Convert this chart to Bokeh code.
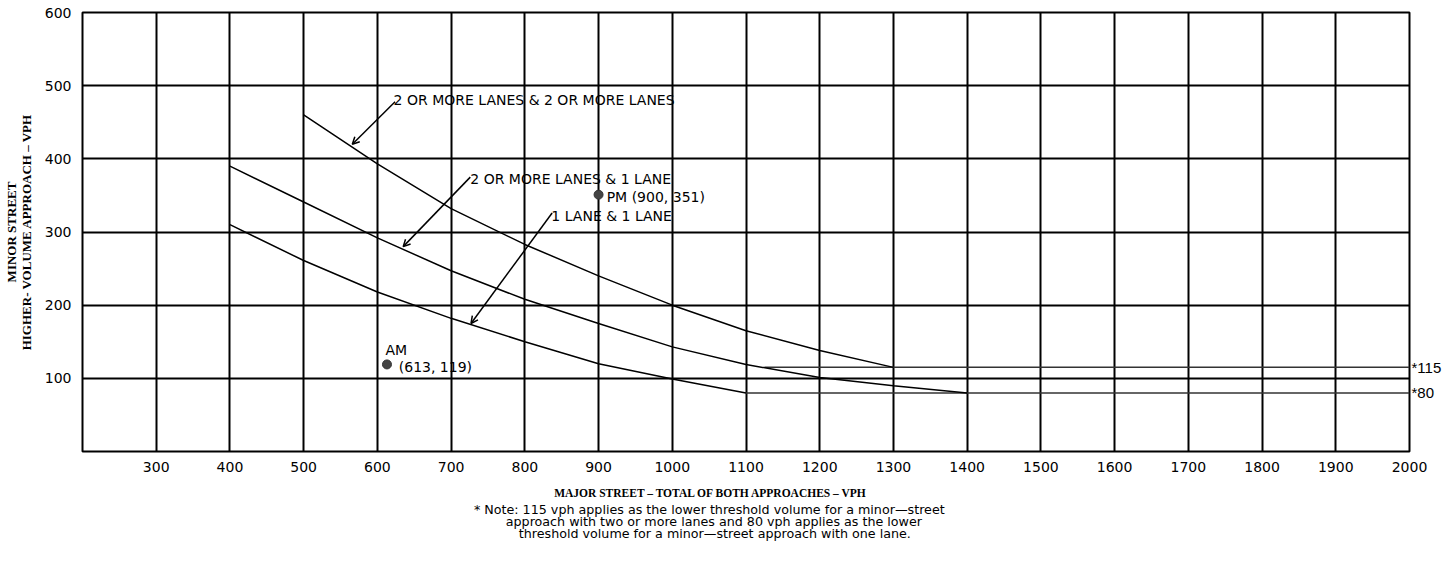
import math
from bokeh.plotting import figure
from bokeh.models import Range1d, FixedTicker, Label, Arrow, OpenHead, LinearAxis
from bokeh.layouts import column
from bokeh.core.properties import value
from bokeh.embed import file_html
from bokeh.resources import INLINE

# ---------------- data ----------------
x_ticks = [300, 400, 500, 600, 700, 800, 900, 1000, 1100, 1200, 1300, 1400,
           1500, 1600, 1700, 1800, 1900, 2000]
y_ticks = [100, 200, 300, 400, 500, 600]

# 2 or more lanes & 2 or more lanes
c22_x = [500, 600, 700, 800, 900, 1000, 1100, 1200, 1300]
c22_y = [460, 393, 332, 283, 240, 200, 165, 138, 115]
# 2 or more lanes & 1 lane
c21_x = [400, 500, 600, 700, 800, 900, 1000, 1100, 1200, 1300, 1400]
c21_y = [390, 341, 292, 247, 208, 175, 143, 119, 101, 90, 80]
# 1 lane & 1 lane
c11_x = [400, 500, 600, 700, 800, 900, 1000, 1100]
c11_y = [310, 261, 218, 182, 150, 120, 99, 80]

threshold_values = [115, 80]
threshold_start = [1125, 1100]
threshold_end = [2000, 2000]
threshold_labels = {115: "*115", 80: "*80"}

point_x = [613, 900]
point_y = [119, 351]

x_title = "MAJOR STREET – TOTAL OF BOTH APPROACHES – VPH"
y_title_1 = "MINOR STREET"
y_title_2 = "HIGHER- VOLUME APPROACH – VPH"
note_lines = [
    "* Note: 115 vph applies as the lower threshold volume for a minor—street",
    "approach with two or more lanes and 80 vph applies as the lower",
    "threshold volume for a minor—street approach with one lane.",
]

# ---------------- main figure ----------------
p = figure(width=1446, height=480, output_backend="svg", toolbar_location=None,
           x_range=Range1d(200, 2000), y_range=Range1d(0, 600),
           min_border_left=82, min_border_right=37, min_border_top=12,
           min_border_bottom=29)
p.background_fill_color = "white"
p.border_fill_color = "white"
p.outline_line_color = "black"
p.outline_line_width = 2

for ax in (p.xaxis, p.yaxis):
    ax.axis_line_color = None
    ax.major_tick_line_color = None
    ax.minor_tick_line_color = None
    ax.major_tick_out = 0
    ax.minor_tick_out = 0
    ax.major_label_text_font = "DejaVu Sans"
    ax.major_label_text_font_size = "14px"
    ax.major_label_text_color = "black"
p.xaxis.major_label_standoff = 10
p.yaxis.major_label_standoff = 11
p.xaxis.ticker = FixedTicker(ticks=x_ticks)
p.yaxis.ticker = FixedTicker(ticks=y_ticks)
p.xgrid.ticker = FixedTicker(ticks=x_ticks)
p.ygrid.ticker = FixedTicker(ticks=y_ticks)
for g in (p.xgrid, p.ygrid):
    g.grid_line_color = "black"
    g.grid_line_width = 2

# y axis titles (two lines, as two axis labels)
p.yaxis.axis_label = y_title_2
p.yaxis.axis_label_standoff = 8
p.yaxis.axis_label_text_font = "Liberation Serif"
p.yaxis.axis_label_text_font_style = "bold"
p.yaxis.axis_label_text_font_size = "13px"
p.yaxis.axis_label_text_color = "black"

outer = LinearAxis(ticker=FixedTicker(ticks=[]), axis_label=y_title_1,
                   axis_line_color=None, major_tick_line_color=None,
                   minor_tick_line_color=None, major_tick_out=0, minor_tick_out=0,
                   major_label_standoff=0, axis_label_standoff=-3,
                   axis_label_text_font="Liberation Serif",
                   axis_label_text_font_style="bold",
                   axis_label_text_font_size="13px", axis_label_text_color="black")
p.add_layout(outer, "left")

# right axis with the threshold labels
right = LinearAxis(ticker=FixedTicker(ticks=threshold_values),
                   major_label_overrides=threshold_labels,
                   axis_line_color=None, major_tick_line_color=None,
                   minor_tick_line_color=None, major_tick_out=0, minor_tick_out=0,
                   major_label_standoff=2, major_label_text_font="Liberation Sans",
                   major_label_text_font_size="15px", major_label_text_color="black")
p.add_layout(right, "right")

# threshold lines
p.segment(x0=threshold_start, y0=threshold_values, x1=threshold_end,
          y1=threshold_values, line_color="#333333", line_width=1.5)

# curves
for cx, cy in ((c22_x, c22_y), (c21_x, c21_y), (c11_x, c11_y)):
    p.line(cx, cy, line_color="black", line_width=1.5)

# points
p.scatter(point_x, point_y, size=9, fill_color="#444444", line_color="#333333")

ann_font = "DejaVu Sans"
ann_size = "14px"

def lab(x, y, text):
    p.add_layout(Label(x=x, y=y, text=text, text_align="left",
                       text_baseline="middle", text_font=ann_font,
                       text_font_size=ann_size, text_color="black"))

def arrow(x0, y0, x1, y1):
    p.add_layout(Arrow(end=OpenHead(size=7, line_width=1.5, line_color="black"),
                       x_start=x0, y_start=y0, x_end=x1, y_end=y1,
                       line_width=1.5, line_color="black"))

lab(622, 480, "2 OR MORE LANES & 2 OR MORE LANES")
arrow(624, 478, 566, 420)
lab(726, 373, "2 OR MORE LANES & 1 LANE")
arrow(726, 375, 635, 280)
lab(836, 322, "1 LANE & 1 LANE")
arrow(837, 326, 727, 175)
lab(911, 348, "PM (900, 351)")
lab(611, 139, "AM")
lab(629, 115, "(613, 119)")

# ---------------- footer (axis title + note) ----------------
f = figure(width=1446, height=87, output_backend="svg", toolbar_location=None,
           x_range=Range1d(0, 1446), y_range=Range1d(87, 0),
           x_axis_type=None, y_axis_type=None, min_border=0)
f.outline_line_color = None
f.background_fill_color = "white"
f.border_fill_color = "white"

f.text(x=[685], y=[12], text=[x_title], text_align="center", text_baseline="middle",
       text_font=value("Liberation Serif"), text_font_style="bold",
       text_font_size=value("11.5px"), text_color="black")
f.text(x=[683, 688, 689], y=[29, 41, 53], text=note_lines, text_align="center",
       text_baseline="middle", text_font=value("DejaVu Sans"),
       text_font_size=value("12.7px"), text_color="black")

layout = column(p, f, spacing=0)
open("out.html", "w").write(file_html(layout, INLINE))
